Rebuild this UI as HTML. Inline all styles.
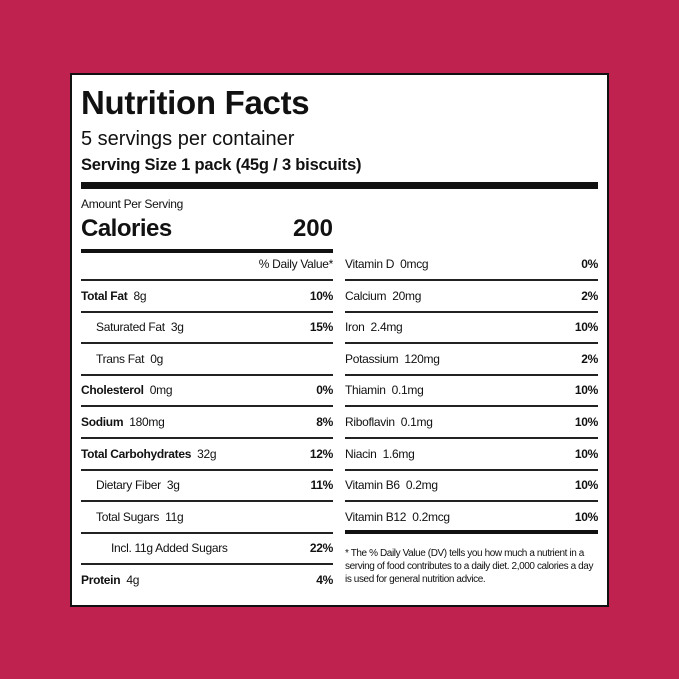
<!DOCTYPE html>
<html><head><style>
html,body{margin:0;padding:0}
body{width:679px;height:679px;background:#C0224F;position:relative;overflow:hidden;font-family:"Liberation Sans",sans-serif;color:#111}
.box{position:absolute;left:70px;top:73px;width:535px;height:530px;background:#fff;border:2px solid #111}
.t{position:absolute;white-space:nowrap}
.l{position:absolute;background:#222}
.r{position:absolute;font-size:12px;letter-spacing:-0.3px;white-space:nowrap;line-height:14px}
.b{font-weight:bold}
.pct{text-align:right}
</style></head><body>
<div class="box"></div>
<div class="t b" style="left:81px;top:84px;font-size:33px;letter-spacing:-0.3px;line-height:38px">Nutrition Facts</div>
<div class="t" style="left:81px;top:127px;font-size:20px;line-height:24px">5 servings per container</div>
<div class="t" style="left:81px;top:155px;font-size:16.5px;line-height:20px;font-weight:bold;letter-spacing:-0.2px">Serving Size 1 pack (45g / 3 biscuits)</div>
<div class="l" style="left:81px;top:182px;width:517px;height:7px;background:#111"></div>
<div class="t" style="left:81px;top:197px;font-size:12px;letter-spacing:-0.3px">Amount Per Serving</div>
<div class="t b" style="left:81px;top:215px;font-size:24px;line-height:28px;letter-spacing:-0.5px">Calories</div>
<div class="t b" style="left:270px;top:215px;width:63px;text-align:right;font-size:24px;line-height:28px">200</div>
<div class="l" style="left:81px;top:249px;width:252px;height:4px;background:#111"></div>

<div id="L"></div>
<script>
var Ls=[["","% Daily Value*",0,0],["<b>Total Fat</b>&nbsp; 8g","10%",0],["Saturated Fat&nbsp; 3g","15%",1],["Trans Fat&nbsp; 0g","",1],["<b>Cholesterol</b>&nbsp; 0mg","0%",0],["<b>Sodium</b>&nbsp; 180mg","8%",0],["<b>Total Carbohydrates</b>&nbsp; 32g","12%",0],["Dietary Fiber&nbsp; 3g","11%",1],["Total Sugars&nbsp; 11g","",1],["Incl. 11g Added Sugars","22%",2],["<b>Protein</b>&nbsp; 4g","4%",0]];
var Rs=[["Vitamin D&nbsp; 0mcg","0%"],["Calcium&nbsp; 20mg","2%"],["Iron&nbsp; 2.4mg","10%"],["Potassium&nbsp; 120mg","2%"],["Thiamin&nbsp; 0.1mg","10%"],["Riboflavin&nbsp; 0.1mg","10%"],["Niacin&nbsp; 1.6mg","10%"],["Vitamin B6&nbsp; 0.2mg","10%"],["Vitamin B12&nbsp; 0.2mcg","10%"]];
var h="";var step=31.6;
Ls.forEach(function(r,i){var y=Math.round(264+i*step-7);
 h+='<div class="r" style="left:'+(81+r[2]*15)+'px;top:'+y+'px">'+r[0]+'</div>';
 h+='<div class="r pct'+(i?' b':'')+'" style="left:233px;width:100px;top:'+y+'px">'+r[1]+'</div>';
 if(i<Ls.length-1)h+='<div class="l" style="left:81px;width:252px;height:2px;top:'+Math.round(279+i*step)+'px"></div>';});
Rs.forEach(function(r,i){var y=Math.round(264+i*step-7);
 h+='<div class="r" style="left:345px;top:'+y+'px">'+r[0]+'</div>';
 h+='<div class="r pct b" style="left:498px;width:100px;top:'+y+'px">'+r[1]+'</div>';
 if(i<Rs.length-1)h+='<div class="l" style="left:345px;width:253px;height:2px;top:'+Math.round(279+i*step)+'px"></div>';});
h+='<div class="l" style="left:345px;width:253px;height:4px;top:530px;background:#111"></div>';
document.getElementById("L").innerHTML=h;
</script>
<div class="t" style="left:345px;top:547px;font-size:10px;line-height:13px;letter-spacing:-0.4px;white-space:normal;width:252px">* The % Daily Value (DV) tells you how much a nutrient in a serving of food contributes to a daily diet. 2,000 calories a day is used for general nutrition advice.</div>
</body></html>
